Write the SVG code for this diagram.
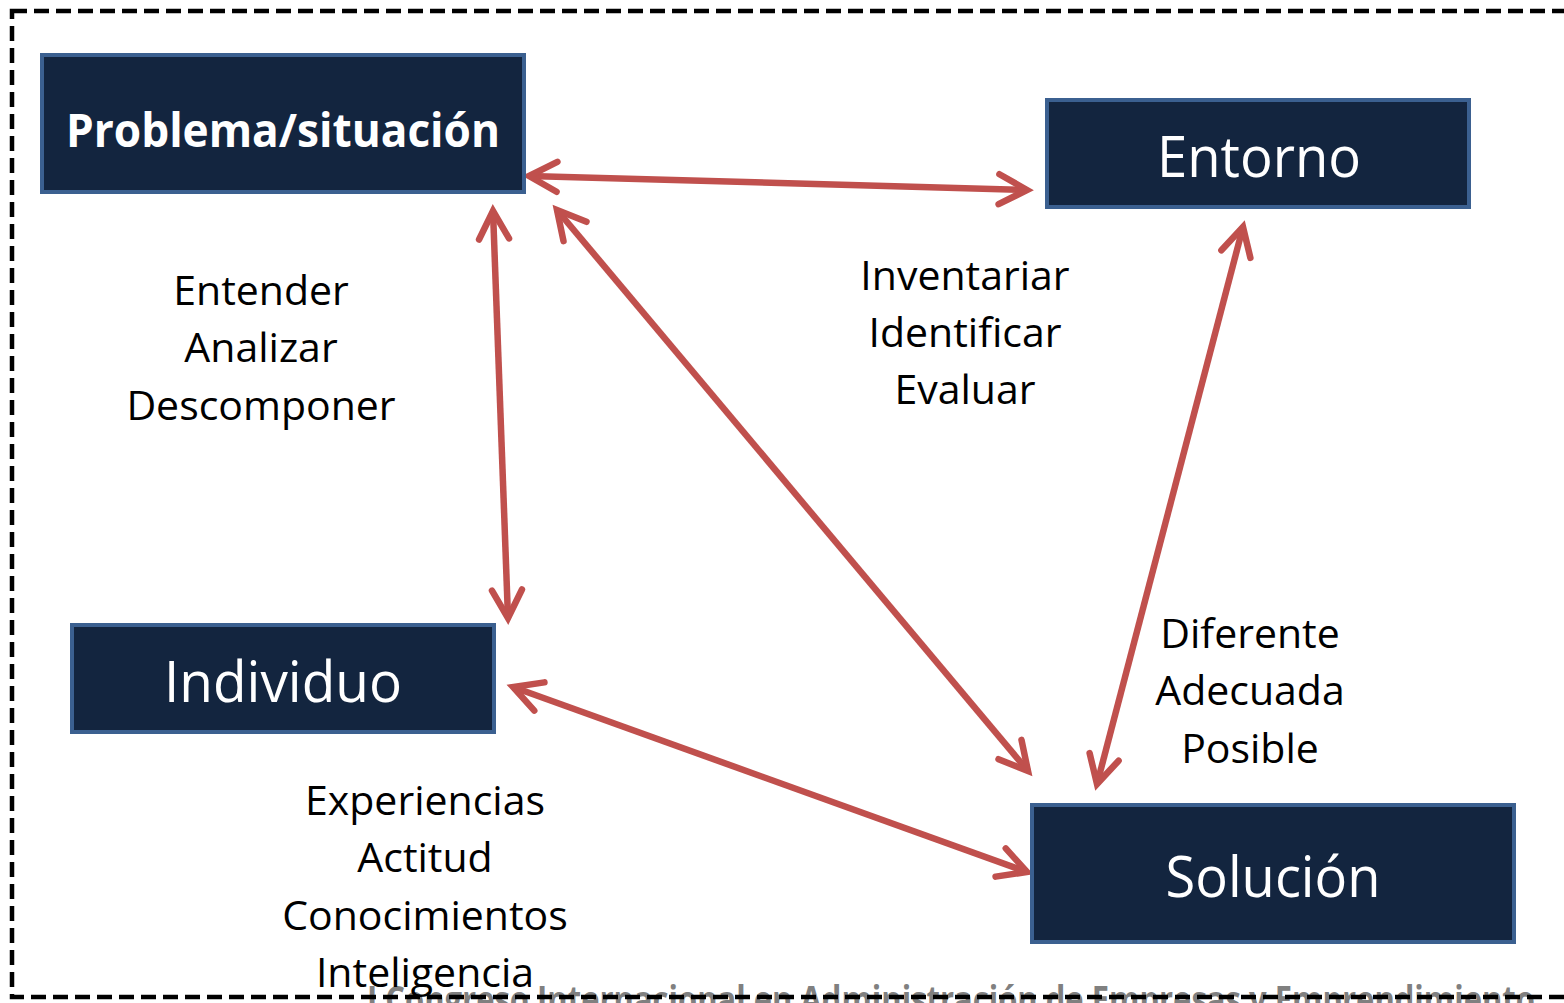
<svg xmlns="http://www.w3.org/2000/svg" width="1564" height="1003" viewBox="0 0 1564 1003">
<style>
.box{fill:#13253f;stroke:#3b6090;stroke-width:4}
.nt{font-family:"Open Sans","Liberation Sans",sans-serif;fill:#ffffff;text-anchor:middle}
.lb{font-family:"Open Sans","Liberation Sans",sans-serif;font-size:41px;fill:#000000;text-anchor:middle}
.con{stroke:#c0504d;stroke-width:6.5;fill:none;marker-start:url(#ah);marker-end:url(#ah)}
</style>
<defs>
<marker id="ah" markerUnits="userSpaceOnUse" orient="auto-start-reverse" refX="0" refY="0" markerWidth="60" markerHeight="60" viewBox="-40 -30 60 60" overflow="visible">
<path d="M-28,-15 L0,0 L-28,15" fill="none" stroke="#c0504d" stroke-width="6.5" stroke-linecap="round" stroke-linejoin="miter"/>
</marker>
</defs>
<rect width="1564" height="1003" fill="#ffffff"/>
<text x="951" y="1013" font-family="'Open Sans','Liberation Sans',sans-serif" font-weight="bold" font-size="38" fill="#808080" text-anchor="middle" textLength="1168" lengthAdjust="spacingAndGlyphs">I Congreso Internacional en Administración de Empresas y Emprendimiento</text>
<rect x="12" y="11" width="1570" height="986" fill="none" stroke="#000000" stroke-width="4.5" stroke-dasharray="15,7"/>
<g id="connectors">
<line class="con" x1="529" y1="176" x2="1027" y2="190"/>
<line class="con" x1="493" y1="211" x2="508" y2="618"/>
<line class="con" x1="557" y1="210" x2="1028" y2="771"/>
<line class="con" x1="1243" y1="227" x2="1097" y2="784"/>
<line class="con" x1="513" y1="687" x2="1027" y2="872"/>
</g>
<g id="problema">
<rect class="box" x="42" y="55" width="482" height="137"/>
<text class="nt" x="283" y="147" font-size="46" font-weight="bold" textLength="434" lengthAdjust="spacingAndGlyphs">Problema/situación</text>
</g>
<g id="entorno">
<rect class="box" x="1047" y="100" width="422" height="107"/>
<text class="nt" x="1259" y="177" font-size="56" textLength="204" lengthAdjust="spacingAndGlyphs">Entorno</text>
</g>
<g id="individuo">
<rect class="box" x="72" y="625" width="422" height="107"/>
<text class="nt" x="283" y="702" font-size="56" textLength="238" lengthAdjust="spacingAndGlyphs">Individuo</text>
</g>
<g id="solucion">
<rect class="box" x="1032" y="805" width="482" height="137"/>
<text class="nt" x="1273" y="897" font-size="56" textLength="215" lengthAdjust="spacingAndGlyphs">Solución</text>
</g>
<g id="labels-problema">
<text class="lb" x="261" y="305">Entender</text>
<text class="lb" x="261" y="362">Analizar</text>
<text class="lb" x="261" y="420">Descomponer</text>
</g>
<g id="labels-entorno">
<text class="lb" x="965" y="290">Inventariar</text>
<text class="lb" x="965" y="347">Identificar</text>
<text class="lb" x="965" y="404">Evaluar</text>
</g>
<g id="labels-solucion">
<text class="lb" x="1250" y="648">Diferente</text>
<text class="lb" x="1250" y="705">Adecuada</text>
<text class="lb" x="1250" y="763">Posible</text>
</g>
<g id="labels-individuo">
<text class="lb" x="425" y="815">Experiencias</text>
<text class="lb" x="425" y="872">Actitud</text>
<text class="lb" x="425" y="930">Conocimientos</text>
<text class="lb" x="425" y="987">Inteligencia</text>
</g>
</svg>
